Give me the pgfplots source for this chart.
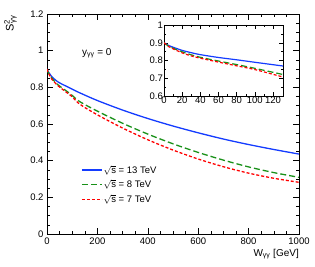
\documentclass[border=0pt]{standalone}
\usepackage{pgfplots}
\pgfplotsset{compat=1.18}
\usepackage{fontspec}
\setmainfont{Liberation Sans}
\definecolor{cblue}{RGB}{20,60,255}
\definecolor{cgreen}{RGB}{25,145,25}
\definecolor{cred}{RGB}{255,0,0}
\begin{document}
\begin{tikzpicture}
\useasboundingbox (-47pt,-32pt) rectangle (268pt,234pt);
\pgfplotsset{
  rootstyle/.style={
    scale only axis,
    /pgf/number format/assume math mode=true,
    /pgf/number format/1000 sep={},
    tick label style={font=\fontsize{9.5}{10}\selectfont},
    major tick length=6pt,
    minor tick length=3pt,
    tick style={black, line width=0.5pt},
    axis line style={line width=0.6pt},
    tick align=inside,
  },
}
\begin{axis}[rootstyle,
  at={(0pt,0pt)}, anchor=south west,
  width=252pt, height=220pt,
  xmin=0, xmax=1000, ymin=0, ymax=1.2,
  xtick={0,200,400,600,800,1000},
  ytick={0,0.2,0.4,0.6,0.8,1,1.2},
  yticklabels={0,0.2,0.4,0.6,0.8,1,1.2},
  minor x tick num=3,
  minor y tick num=3,
  xlabel={W\textsubscript{γγ} [GeV]},
  ylabel={S\textsuperscript{2}\textsubscript{\kern-0.5em γγ}},
  xlabel style={at={(axis description cs:1,-0.1)}, anchor=base east, inner sep=0pt, font=\fontsize{10}{11}\selectfont},
  ylabel style={at={(axis description cs:-0.145,0.995)}, anchor=east, inner sep=0pt, font=\fontsize{11}{12}\selectfont},
  legend style={draw=none, fill=none, at={(axis description cs:0.135,0.318)}, anchor=north west,
    font=\fontsize{9.5}{10}\selectfont, row sep=3.5pt, inner sep=0pt, nodes={inner sep=1pt}},
  legend cell align=left,
]
\addplot[color=cblue, line width=1.3pt, smooth,
  legend image code/.code={\draw[cblue, line width=1.4pt] (0pt,0pt) -- (20pt,0pt);}] coordinates {
(0,0.900) (5,0.885) (10,0.875) (20,0.857) (40,0.833) (60,0.817) (80,0.804) (100,0.790) (130,0.770)
(200,0.728) (300,0.676) (400,0.630) (500,0.589) (600,0.552) (700,0.518) (800,0.488) (900,0.461) (1000,0.436)};
\addlegendentry{$\sqrt{\mathrm{s}}$ = 13 TeV}
\addplot[color=cgreen, line width=1.3pt, smooth, dash pattern=on 6pt off 3pt,
  legend image code/.code={\draw[cgreen, line width=1.4pt, dash pattern=on 6pt off 3pt] (0pt,0pt) -- (20pt,0pt);}] coordinates {
(0,0.900) (5,0.881) (10,0.869) (20,0.849) (40,0.818) (60,0.797) (80,0.777) (100,0.756) (130,0.722)
(200,0.670) (300,0.604) (400,0.545) (500,0.492) (600,0.445) (700,0.403) (800,0.366) (900,0.335) (1000,0.309)};
\addlegendentry{$\sqrt{\mathrm{s}}$ = 8 TeV}
\addplot[color=cred, line width=1.3pt, smooth, dash pattern=on 3pt off 2pt,
  legend image code/.code={\draw[cred, line width=1.4pt, dash pattern=on 3pt off 2pt] (0pt,0pt) -- (20pt,0pt);}] coordinates {
(0,0.900) (5,0.879) (10,0.866) (20,0.843) (40,0.813) (60,0.791) (80,0.770) (100,0.749) (130,0.708)
(200,0.650) (300,0.578) (400,0.514) (500,0.458) (600,0.409) (700,0.367) (800,0.332) (900,0.304) (1000,0.282)};
\addlegendentry{$\sqrt{\mathrm{s}}$ = 7 TeV}
\node[anchor=west, font=\fontsize{10}{11}\selectfont] at (axis cs:125,0.985) {y\textsubscript{γγ} = 0};
\end{axis}
\begin{axis}[rootstyle,
  at={(117pt,138pt)}, anchor=south west,
  width=119pt, height=71pt,
  axis background/.style={fill=white},
  xmin=0, xmax=131, ymin=0.6, ymax=1.0,
  xtick={0,20,40,60,80,100,120},
  ytick={0.6,0.7,0.8,0.9,1.0},
  yticklabels={0.6,0.7,0.8,0.9,1},
  minor x tick num=1,
  minor y tick num=1,
  major tick length=4pt,
  minor tick length=2pt,
  xticklabel style={inner sep=1pt},
  yticklabel style={inner sep=1pt},
]
\addplot[color=cblue, line width=1.2pt, smooth] coordinates {
(0,0.900) (5,0.885) (10,0.875) (20,0.857) (30,0.844) (40,0.833) (60,0.817) (80,0.804) (100,0.790) (131,0.769)};
\addplot[color=cgreen, line width=1.2pt, smooth, dash pattern=on 6pt off 3pt] coordinates {
(0,0.900) (5,0.881) (10,0.869) (20,0.849) (30,0.832) (40,0.818) (60,0.797) (80,0.777) (100,0.756) (131,0.721)};
\addplot[color=cred, line width=1.2pt, smooth, dash pattern=on 3pt off 2pt] coordinates {
(0,0.900) (5,0.879) (10,0.866) (20,0.843) (30,0.826) (40,0.813) (60,0.791) (80,0.770) (100,0.749) (131,0.707)};
\end{axis}
\end{tikzpicture}
\end{document}
